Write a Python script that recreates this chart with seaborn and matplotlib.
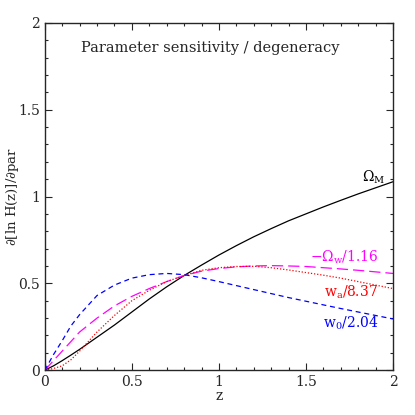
import numpy as np
import pandas as pd
import seaborn as sns
import matplotlib
matplotlib.use("Agg")
import matplotlib.pyplot as plt
from matplotlib.ticker import MultipleLocator

# values
z = [0.0, 0.05, 0.1, 0.15, 0.2, 0.3, 0.4, 0.5, 0.6, 0.7, 0.8, 0.9, 1.0,
     1.1, 1.2, 1.3, 1.4, 1.5, 1.6, 1.7, 1.8, 1.9, 2.0]
omega_m = [0.0, 0.025, 0.055, 0.087, 0.12, 0.19, 0.26, 0.335, 0.41, 0.48, 0.545,
           0.605, 0.663, 0.717, 0.768, 0.815, 0.86, 0.90, 0.94, 0.978, 1.015, 1.05, 1.085]
omega_w = [0.0, 0.055, 0.11, 0.165, 0.22, 0.30, 0.37, 0.425, 0.47, 0.51, 0.545,
           0.57, 0.585, 0.595, 0.60, 0.602, 0.60, 0.597, 0.59, 0.583, 0.575, 0.566, 0.557]
w_a = [0.0, 0.01, 0.025, 0.06, 0.11, 0.22, 0.315, 0.40, 0.46, 0.51, 0.545,
       0.575, 0.59, 0.597, 0.598, 0.59, 0.577, 0.562, 0.547, 0.53, 0.51, 0.49, 0.47]
w_0 = [0.0, 0.09, 0.17, 0.255, 0.32, 0.43, 0.49, 0.53, 0.55, 0.557, 0.55,
       0.532, 0.51, 0.487, 0.464, 0.441, 0.418, 0.397, 0.376, 0.355, 0.335, 0.315, 0.295]

labels = [r'$\Omega_{\rm M}$', r'$-\Omega_{\rm w}/1.16$', r'$w_{\rm a}/8.37$', r'$w_0/2.04$']
ticks = [0, 0.5, 1, 1.5, 2]
tick_labels = ['0', '0.5', '1', '1.5', '2']

sns.set_style("ticks")
plt.rcParams['font.family'] = ['DejaVu Serif']
plt.rcParams['mathtext.fontset'] = 'dejavuserif'
plt.rcParams['mathtext.default'] = 'regular'

fig = plt.figure(figsize=(4.15, 4.15), dpi=100)
ax = fig.add_axes([0.108, 0.108, 0.839, 0.837])

sns.lineplot(x=z, y=omega_m, color='black', lw=0.9, ax=ax)
sns.lineplot(x=z, y=omega_w, color='#ff00ff', lw=0.9, linestyle=(0, (9, 4)), ax=ax)
sns.lineplot(x=z, y=w_a, color='#ff0000', lw=0.9, linestyle=(0, (1, 1.5)), ax=ax)
sns.lineplot(x=z, y=w_0, color='#0000ff', lw=0.9, linestyle=(0, (4, 3)), ax=ax)

ax.set_xlim(0, 2)
ax.set_ylim(0, 2)
ax.set_xticks(ticks, tick_labels)
ax.set_yticks(ticks, tick_labels)
ax.xaxis.set_minor_locator(MultipleLocator(0.1))
ax.yaxis.set_minor_locator(MultipleLocator(0.1))
ax.tick_params(which='both', direction='in', top=True, right=True, width=0.8, labelsize=10)
ax.tick_params(which='major', length=5)
ax.tick_params(which='minor', length=2.5)
for s in ax.spines.values():
    s.set_linewidth(1.0)

ax.set_xlabel('z', fontsize=10, labelpad=0)
ax.set_ylabel(r'$\partial$[ln H(z)]/$\partial$par', fontsize=9.5)
ax.yaxis.set_label_coords(-0.068, 0.5)

ax.text(0.95, 1.855, 'Parameter sensitivity / degeneracy', ha='center', va='center', fontsize=10.5)
ax.text(1.89, 1.11, labels[0], ha='center', va='center', fontsize=10, color='black')
ax.text(1.72, 0.65, labels[1], ha='center', va='center', fontsize=10, color='#ff00ff')
ax.text(1.76, 0.45, labels[2], ha='center', va='center', fontsize=10, color='#ff0000')
ax.text(1.76, 0.27, labels[3], ha='center', va='center', fontsize=10, color='#0000ff')

fig.savefig('out.png', dpi=100)
